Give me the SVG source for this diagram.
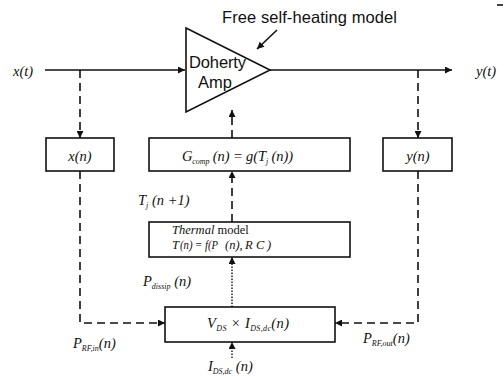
<svg xmlns="http://www.w3.org/2000/svg" width="504" height="376" viewBox="0 0 504 376">
<style>
.box{fill:#fff;stroke:#111;stroke-width:1.6}
.ln{fill:none;stroke:#111;stroke-width:1.6}
.dash{fill:none;stroke:#111;stroke-width:1.6;stroke-dasharray:8 5}
.dot{fill:none;stroke:#111;stroke-width:1.4;stroke-dasharray:1.5 1.5}
.sans{font-family:"Liberation Sans",Arial,sans-serif;fill:#111}
.m{font-family:"Liberation Serif","Times New Roman",serif;font-style:italic;font-size:14.5px;fill:#111}
.s{font-size:8px}
.t{font-family:"Liberation Serif","Times New Roman",serif;font-size:12.5px;fill:#111}
</style>
<defs>
<marker id="ah" viewBox="0 0 10 10" refX="10" refY="5" markerWidth="9" markerHeight="7" markerUnits="userSpaceOnUse" orient="auto">
<path d="M0,0 L10,5 L0,10 z" fill="#111"/>
</marker>
</defs>
<rect width="504" height="376" fill="#fff"/>

<g id="connectors">
<path class="ln" d="M45,70 H185" marker-end="url(#ah)"/>
<path class="ln" d="M270,70 H452" marker-end="url(#ah)"/>
<path class="ln" d="M277,30 L257,49" marker-end="url(#ah)"/>
<path class="dash" d="M80,70 V138" marker-end="url(#ah)"/>
<path class="dash" d="M418,70 V138" marker-end="url(#ah)"/>
<path class="dash" d="M232,138 V110" marker-end="url(#ah)"/>
<path class="dash" d="M232,222 V171" marker-end="url(#ah)"/>
<path class="dot" d="M232,307 V257" marker-end="url(#ah)"/>
<path class="dot" d="M232,358 V342" marker-end="url(#ah)"/>
<path class="dash" d="M80,171 V323 H165" marker-end="url(#ah)"/>
<path class="dash" d="M418,171 V323 H335" marker-end="url(#ah)"/>
<path class="ln" d="M497,5 H503" stroke-width="1"/>
</g>

<g id="amp">
<path class="ln" d="M186,28 L270,70 L186,112 Z" fill="#fff"/>
<text class="sans" x="189" y="68" font-size="16.5" textLength="57">Doherty</text>
<text class="sans" x="198" y="88" font-size="16.5">Amp</text>
</g>
<text class="sans" x="222" y="23" font-size="16.5" textLength="175">Free self-heating model</text>

<text class="m" x="13" y="76">x(t)</text>
<text class="m" x="476" y="76">y(t)</text>

<g id="xn">
<rect class="box" x="46" y="138" width="68" height="33"/>
<text class="m" x="80" y="161" text-anchor="middle">x(n)</text>
</g>
<g id="yn">
<rect class="box" x="383" y="138" width="69" height="33"/>
<text class="m" x="418" y="161" text-anchor="middle">y(n)</text>
</g>
<g id="gcomp">
<rect class="box" x="149" y="138" width="201" height="33"/>
<text class="m" x="182" y="161" textLength="111">G<tspan class="s" dy="3">comp</tspan><tspan dy="-3"> (n) = g(T</tspan><tspan class="s" dy="3">j</tspan><tspan dy="-3"> (n))</tspan></text>
</g>

<text class="m" x="138" y="205">T<tspan class="s" dy="3">j</tspan><tspan dy="-3"> (n +1)</tspan></text>

<g id="thermal">
<rect class="box" x="149" y="222" width="201" height="35"/>
<text class="t" x="172" y="234"><tspan font-style="italic">Thermal</tspan> model</text>
<text class="t" font-style="italic" font-size="11.5" y="249"><tspan x="172">T</tspan><tspan x="180" textLength="38" lengthAdjust="spacingAndGlyphs">(n) = f(P</tspan><tspan x="225">(n),</tspan><tspan x="245">R</tspan><tspan x="256">C</tspan><tspan x="267">)</tspan></text>
</g>

<text class="m" x="143" y="286">P<tspan class="s" dy="3">dissip</tspan><tspan dy="-3"> (n)</tspan></text>

<g id="vds">
<rect class="box" x="165" y="307" width="170" height="35"/>
<text class="m" x="207" y="328" textLength="82">V<tspan class="s" dy="3">DS</tspan><tspan dy="-3"> × I</tspan><tspan class="s" dy="3">DS,dc</tspan><tspan dy="-3">(n)</tspan></text>
</g>

<text class="m" x="73" y="348">P<tspan class="s" dy="3">RF,in</tspan><tspan dy="-3">(n)</tspan></text>
<text class="m" x="363" y="343">P<tspan class="s" dy="3">RF,out</tspan><tspan dy="-3">(n)</tspan></text>
<text class="m" x="208" y="371">I<tspan class="s" dy="3">DS,dc</tspan><tspan dy="-3"> (n)</tspan></text>
</svg>
